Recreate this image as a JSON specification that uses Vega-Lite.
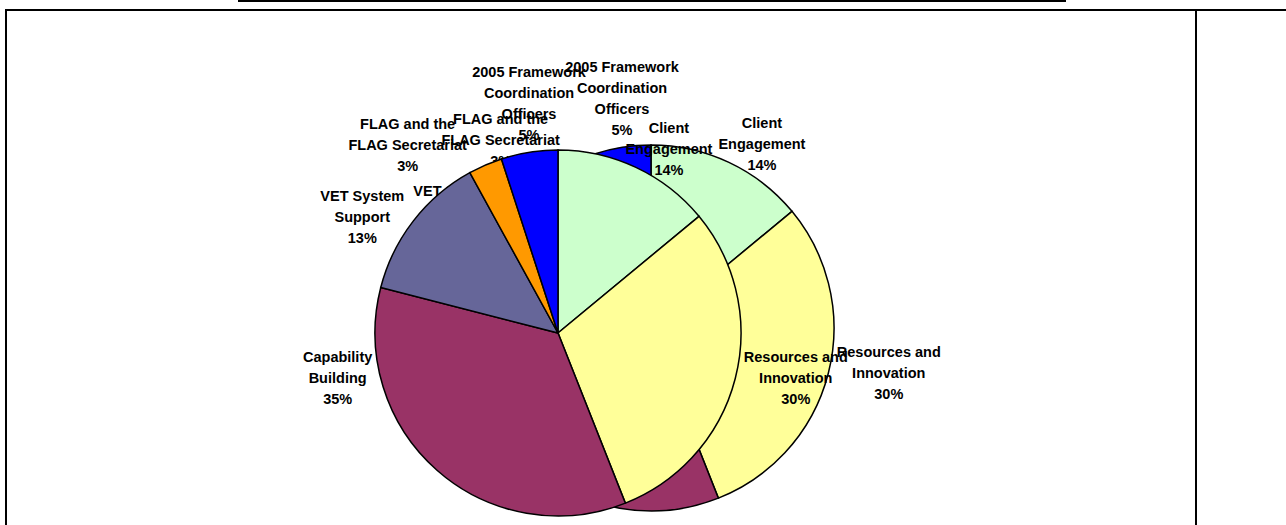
{
  "$schema": "https://vega.github.io/schema/vega-lite/v6.json",
  "background": "white",
  "padding": {"left": 5, "top": 0, "right": 0, "bottom": 0},
  "bounds": "flush",
  "columns": 2,
  "spacing": {"row": 8, "column": 0},
  "config": {
    "view": {"stroke": "black", "strokeWidth": 2},
    "text": {"font": "Liberation Sans", "fontWeight": "bold", "fontSize": 14.5, "lineHeight": 21, "lineBreak": "\n", "align": "center", "baseline": "middle", "fill": "black"}
  },
  "datasets": {
    "slices": [
      {"cat": "Client Engagement", "pct": 14, "o": 1, "label": "Client\nEngagement\n14%"},
      {"cat": "Resources and Innovation", "pct": 30, "o": 2, "label": "Resources and\nInnovation\n30%"},
      {"cat": "Capability Building", "pct": 35, "o": 3, "label": "Capability\nBuilding\n35%"},
      {"cat": "VET System Support", "pct": 13, "o": 4, "label": "VET System\nSupport\n13%"},
      {"cat": "FLAG and the FLAG Secretariat", "pct": 3, "o": 5, "label": "FLAG and the\nFLAG Secretariat\n3%"},
      {"cat": "2005 Framework Coordination Officers", "pct": 5, "o": 6, "label": "2005 Framework\nCoordination\nOfficers\n5%"}
    ]
  },
  "concat": [
    {
      "width": 1060, "height": 2,
      "view": {"stroke": null, "fill": {"gradient": "linear", "x1": 0, "x2": 1, "y1": 0, "y2": 0,
        "stops": [{"offset": 0, "color": "white"}, {"offset": 0.2189, "color": "white"}, {"offset": 0.2189, "color": "black"}, {"offset": 1, "color": "black"}]}},
      "data": {"values": []},
      "mark": "point",
      "encoding": {}
    },
    {
      "width": 102, "height": 2,
      "view": {"fill": null, "stroke": null},
      "data": {"values": []},
      "mark": "point",
      "encoding": {}
    },
    {
      "width": 1190, "height": 530,
      "view": {"stroke": "black", "strokeWidth": 2},
      "data": {"name": "slices"},
      "encoding": {
        "theta": {"field": "pct", "type": "quantitative", "stack": true},
        "order": {"field": "o", "type": "quantitative"}
      },
      "layer": [
        {
          "mark": {"type": "arc", "radius": 183, "stroke": "black", "strokeWidth": 1.5, "xOffset": 50, "yOffset": 53},
          "encoding": {
            "color": {"field": "cat", "type": "nominal", "legend": null,
              "scale": {"domain": ["Client Engagement", "Resources and Innovation", "Capability Building", "VET System Support", "FLAG and the FLAG Secretariat", "2005 Framework Coordination Officers"],
                        "range": ["#CCFFCC", "#FFFF99", "#993366", "#666699", "#FF9900", "#0000FF"]}}
          }
        },
        {"mark": {"type": "text", "radius": 230, "dx": 13, "dy": 4, "xOffset": 50, "yOffset": 53},
         "encoding": {"text": {"condition": {"test": "datum.cat === 'Client Engagement'", "field": "label"}, "value": ""}}},
        {"mark": {"type": "text", "radius": 230, "dx": 15, "dy": -32, "xOffset": 50, "yOffset": 53},
         "encoding": {"text": {"condition": {"test": "datum.cat === 'Resources and Innovation'", "field": "label"}, "value": ""}}},
        {"mark": {"type": "text", "radius": 120, "dx": -141, "dy": -65, "xOffset": 50, "yOffset": 53},
         "encoding": {"text": {"condition": {"test": "datum.cat === 'Capability Building'", "field": "label"}, "value": ""}}},
        {"mark": {"type": "text", "radius": 230, "dx": -14, "dy": 5, "xOffset": 50, "yOffset": 53},
         "encoding": {"text": {"condition": {"test": "datum.cat === 'VET System Support'", "field": "label"}, "value": ""}}},
        {"mark": {"type": "text", "radius": 230, "dx": -59, "dy": 3, "xOffset": 50, "yOffset": 53},
         "encoding": {"text": {"condition": {"test": "datum.cat === 'FLAG and the FLAG Secretariat'", "field": "label"}, "value": ""}}},
        {"mark": {"type": "text", "radius": 230, "dx": 7, "dy": -33, "xOffset": 50, "yOffset": 53},
         "encoding": {"text": {"condition": {"test": "datum.cat === '2005 Framework Coordination Officers'", "field": "label"}, "value": ""}}},
        {
          "mark": {"type": "arc", "radius": 183, "stroke": "black", "strokeWidth": 1.5, "xOffset": -43, "yOffset": 58},
          "encoding": {
            "color": {"field": "cat", "type": "nominal", "legend": null}
          }
        },
        {"mark": {"type": "text", "radius": 230, "dx": 13, "dy": 4, "xOffset": -43, "yOffset": 58},
         "encoding": {"text": {"condition": {"test": "datum.cat === 'Client Engagement'", "field": "label"}, "value": ""}}},
        {"mark": {"type": "text", "radius": 230, "dx": 15, "dy": -32, "xOffset": -43, "yOffset": 58},
         "encoding": {"text": {"condition": {"test": "datum.cat === 'Resources and Innovation'", "field": "label"}, "value": ""}}},
        {"mark": {"type": "text", "radius": 120, "dx": -141, "dy": -65, "xOffset": -43, "yOffset": 58},
         "encoding": {"text": {"condition": {"test": "datum.cat === 'Capability Building'", "field": "label"}, "value": ""}}},
        {"mark": {"type": "text", "radius": 230, "dx": -14, "dy": 5, "xOffset": -43, "yOffset": 58},
         "encoding": {"text": {"condition": {"test": "datum.cat === 'VET System Support'", "field": "label"}, "value": ""}}},
        {"mark": {"type": "text", "radius": 230, "dx": -59, "dy": 3, "xOffset": -43, "yOffset": 58},
         "encoding": {"text": {"condition": {"test": "datum.cat === 'FLAG and the FLAG Secretariat'", "field": "label"}, "value": ""}}},
        {"mark": {"type": "text", "radius": 230, "dx": 7, "dy": -33, "xOffset": -43, "yOffset": 58},
         "encoding": {"text": {"condition": {"test": "datum.cat === '2005 Framework Coordination Officers'", "field": "label"}, "value": ""}}}
      ]
    },
    {
      "width": 102, "height": 530,
      "view": {"stroke": "black", "strokeWidth": 2},
      "data": {"values": []},
      "mark": "point",
      "encoding": {}
    }
  ]
}
